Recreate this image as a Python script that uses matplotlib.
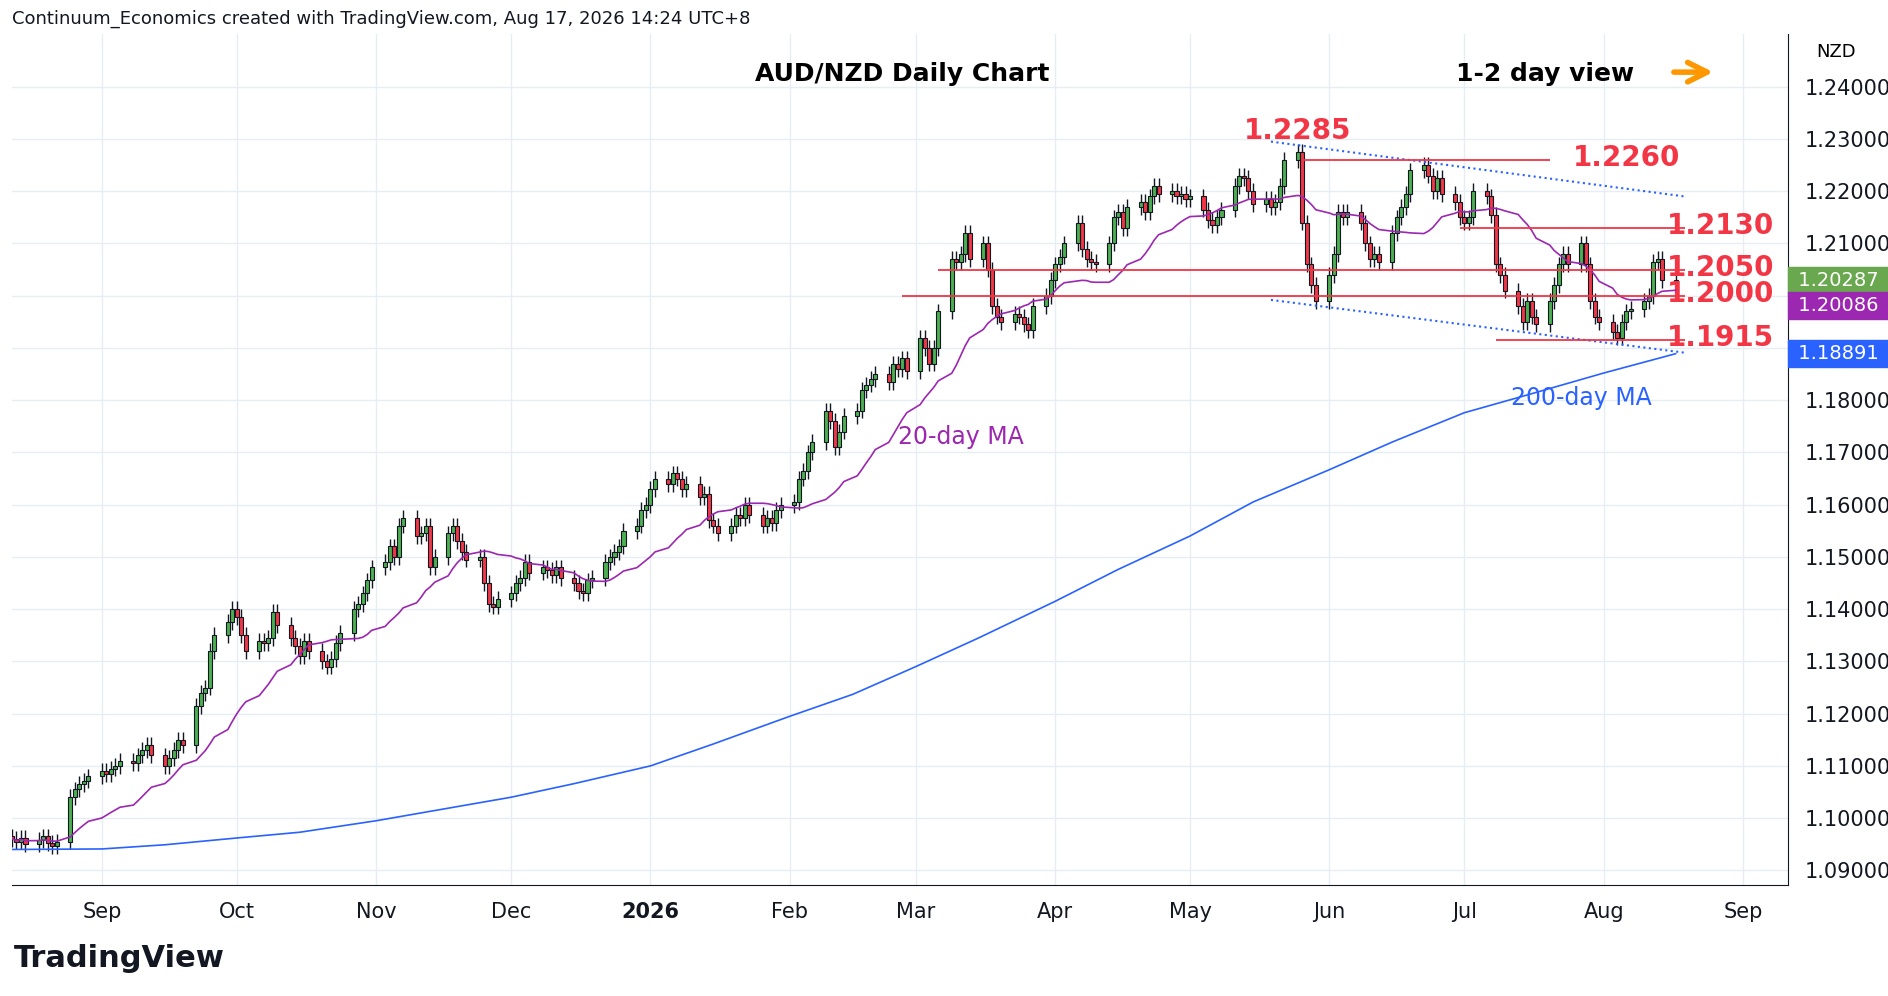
import numpy as np
import pandas as pd
import matplotlib.pyplot as plt
import matplotlib.dates as mdates

# daily closes by month
months = ["2025-08", "2025-09", "2025-10", "2025-11", "2025-12", "2026-01", "2026-02",
          "2026-03", "2026-04", "2026-05", "2026-06", "2026-07", "2026-08"]
start_day = {"2025-08": 12}
closes = [
    [1.0960, 1.0955, 1.0962, 1.0950, 1.0958, 1.0965, 1.0952, 1.0946, 1.0955, 1.1040, 1.1055, 1.1065, 1.1072, 1.1080],
    [1.1090, 1.1085, 1.1095, 1.1100, 1.1110, 1.1105, 1.1120, 1.1130, 1.1140, 1.1120, 1.1100, 1.1115, 1.1130, 1.1150,
     1.1140, 1.1215, 1.1240, 1.1250, 1.1320, 1.1350, 1.1375, 1.1400],
    [1.1385, 1.1350, 1.1320, 1.1340, 1.1335, 1.1345, 1.1395, 1.1370, 1.1345, 1.1330, 1.1310, 1.1340, 1.1320, 1.1300,
     1.1290, 1.1305, 1.1335, 1.1355, 1.1400, 1.1410, 1.1430, 1.1455, 1.1480],
    [1.1490, 1.1520, 1.1500, 1.1560, 1.1575, 1.1540, 1.1545, 1.1560, 1.1480, 1.1500, 1.1545, 1.1560, 1.1530, 1.1510,
     1.1495, 1.1500, 1.1450, 1.1410, 1.1405, 1.1420],
    [1.1430, 1.1450, 1.1460, 1.1490, 1.1470, 1.1480, 1.1475, 1.1465, 1.1480, 1.1460, 1.1450, 1.1435, 1.1430, 1.1455,
     1.1460, 1.1490, 1.1500, 1.1510, 1.1520, 1.1550, 1.1560, 1.1590, 1.1600],
    [1.1630, 1.1650, 1.1640, 1.1660, 1.1650, 1.1630, 1.1640, 1.1615, 1.1620, 1.1570, 1.1560, 1.1545, 1.1560, 1.1580,
     1.1575, 1.1600, 1.1580, 1.1560, 1.1575, 1.1565, 1.1590, 1.1600],
    [1.1605, 1.1650, 1.1665, 1.1700, 1.1720, 1.1780, 1.1760, 1.1710, 1.1740, 1.1770, 1.1780, 1.1820, 1.1830, 1.1840,
     1.1850, 1.1835, 1.1870, 1.1860, 1.1880, 1.1855],
    [1.1920, 1.1900, 1.1870, 1.1900, 1.1970, 1.2070, 1.2065, 1.2080, 1.2120, 1.2070, 1.2100, 1.2050, 1.1980, 1.1960,
     1.1950, 1.1965, 1.1960, 1.1945, 1.1935, 1.1980, 1.2000, 1.2030],
    [1.2060, 1.2075, 1.2100, 1.2140, 1.2090, 1.2070, 1.2065, 1.2060, 1.2100, 1.2150, 1.2160, 1.2130, 1.2170, 1.2180,
     1.2160, 1.2190, 1.2210, 1.2195, 1.2200, 1.2190, 1.2195, 1.2185],
    [1.2190, 1.2165, 1.2145, 1.2135, 1.2150, 1.2165, 1.2210, 1.2230, 1.2225, 1.2200, 1.2175, 1.2185, 1.2170, 1.2180,
     1.2210, 1.2260, 1.2275, 1.2140, 1.2060, 1.2020, 1.1990],
    [1.2040, 1.2080, 1.2160, 1.2150, 1.2160, 1.2140, 1.2100, 1.2070, 1.2080, 1.2065, 1.2120, 1.2150, 1.2170, 1.2195,
     1.2240, 1.2250, 1.2230, 1.2200, 1.2225, 1.2195, 1.2180, 1.2150],
    [1.2140, 1.2150, 1.2200, 1.2190, 1.2155, 1.2060, 1.2040, 1.2010, 1.1980, 1.1950, 1.1990, 1.1960, 1.1945, 1.1990,
     1.2020, 1.2060, 1.2080, 1.2060, 1.2100, 1.2060, 1.1990, 1.1960, 1.1950],
    [1.1930, 1.1920, 1.1950, 1.1970, 1.1975, 1.1990, 1.2000, 1.2065, 1.2070, 1.2030, 1.2029],
]
first_open = 1.0965
wick = 0.0015

# 200-day MA
ma200_dates = ["2025-08-12", "2025-09-01", "2025-09-15", "2025-10-01", "2025-10-15", "2025-11-01", "2025-11-15",
               "2025-12-01", "2025-12-15", "2026-01-01", "2026-01-15", "2026-02-01", "2026-02-15", "2026-03-01",
               "2026-03-15", "2026-04-01", "2026-04-15", "2026-05-01", "2026-05-15", "2026-06-01", "2026-06-15",
               "2026-07-01", "2026-07-15", "2026-08-01", "2026-08-17"]
ma200_vals = [1.0940, 1.0941, 1.0949, 1.0962, 1.0973, 1.0995, 1.1016, 1.1040, 1.1066, 1.1100, 1.1142, 1.1195,
              1.1237, 1.1290, 1.1345, 1.1415, 1.1476, 1.1540, 1.1605, 1.1667, 1.1720, 1.1776, 1.1810,
              1.1852, 1.1889]

levels = [(1.2260, "2026-05-26", "2026-07-20"), (1.2130, "2026-06-30", "2026-08-19"),
          (1.2050, "2026-03-06", "2026-08-19"), (1.2000, "2026-02-26", "2026-08-19"),
          (1.1915, "2026-07-08", "2026-08-19")]

# price tags on the axis: value, drawn position, colour
tags = [(1.20287, 1.2029, "#6aa84f"), (1.20086, 1.1981, "#9c27b0"), (1.18891, 1.1889, "#2962ff")]

dates = []
for m, vals in zip(months, closes):
    y, mo = map(int, m.split("-"))
    d0 = pd.Timestamp(y, mo, start_day.get(m, 1))
    bd = pd.bdate_range(d0, d0 + pd.offsets.MonthEnd(0))
    dates += list(bd[:len(vals)])
c = np.concatenate(closes)
o = np.concatenate([[first_open], c[:-1]])
h = np.maximum(o, c) + wick
l = np.minimum(o, c) - wick
x = mdates.date2num(dates)
ma20 = pd.Series(c).rolling(20, min_periods=1).mean().values

fig = plt.figure(figsize=(18.88, 9.96), dpi=100)
ax = fig.add_axes([12 / 1888, 1 - 885 / 996, 1776 / 1888, 851 / 996])
ax.set_facecolor("white")

up = c >= o
for xi, oi, ci, hi, li, u in zip(x, o, c, h, l, up):
    ax.vlines(xi, li, hi, color="#131722", lw=1, zorder=2)
    ax.bar(xi, max(abs(ci - oi), 0.0002), bottom=min(oi, ci), width=0.9,
           color="#4caf50" if u else "#f23645", edgecolor="#131722", lw=0.8, zorder=3)

ax.plot(x, ma20, color="#9c27b0", lw=1.2, zorder=4)
ax.plot(mdates.date2num(pd.to_datetime(ma200_dates)), ma200_vals, color="#2962ff", lw=1.2, zorder=4)


def d(s):
    return mdates.datestr2num(s)


red = "#f23645"
for lv, a, b in levels:
    ax.hlines(lv, d(a), d(b), color=red, lw=1.3, zorder=5)
ax.plot([d("2026-05-19"), d("2026-08-19")], [1.2295, 1.2190], ":", color="#2962ff", lw=1.5)
ax.plot([d("2026-05-19"), d("2026-08-19")], [1.1992, 1.1891], ":", color="#2962ff", lw=1.5)

lab = dict(color=red, fontsize=20, fontweight="bold", va="center")
ax.text(d("2026-05-25"), 1.2316, "1.2285", ha="center", **lab)
ax.text(d("2026-08-06"), 1.2264, "1.2260", ha="center", **lab)
for v, t in [(1.2130, "1.2130"), (1.2050, "1.2050"), (1.2000, "1.2000"), (1.1915, "1.1915")]:
    ax.text(d("2026-08-27"), v + 0.0004, t, ha="center", **lab)
ax.text(d("2026-07-27"), 1.1805, "200-day MA", color="#2962ff", fontsize=17, ha="center", va="center")
ax.text(d("2026-03-11"), 1.1730, "20-day MA", color="#9c27b0", fontsize=17, ha="center", va="center")
ax.text(d("2026-02-26"), 1.2425, "AUD/NZD Daily Chart", fontsize=18, fontweight="bold", ha="center", va="center")
ax.text(d("2026-07-19"), 1.2425, "1-2 day view", fontsize=18, fontweight="bold", ha="center", va="center")
ax.annotate("", xy=(d("2026-08-26"), 1.2428), xytext=(d("2026-08-16"), 1.2428),
            arrowprops=dict(arrowstyle="->", color="#ff9800", lw=4, mutation_scale=35))

ax.set_xlim(d("2025-08-12"), d("2026-09-11"))
ax.set_ylim(1.0872, 1.2501)
ticks = pd.date_range("2025-09-01", "2026-09-01", freq="MS")
ax.set_xticks(mdates.date2num(ticks))
ax.set_xticklabels(["2026" if t.month == 1 else t.strftime("%b") for t in ticks])
for tl in ax.get_xticklabels():
    if tl.get_text() == "2026":
        tl.set_fontweight("bold")
ax.yaxis.tick_right()
yt = np.arange(1.09, 1.2401, 0.01)
ax.set_yticks(yt)
# 1.20 and 1.19 sit under the price tags
ax.set_yticklabels(["" if abs(v - 1.20) < 1e-6 or abs(v - 1.19) < 1e-6 else f"{v:.5f}" for v in yt])
ax.tick_params(labelsize=15, colors="#131722", length=0, pad=12)
ax.grid(color="#e6edf3", lw=1)
for s in ["top", "left"]:
    ax.spines[s].set_visible(False)
ax.spines["right"].set_color("#131722")
ax.spines["bottom"].set_color("#131722")

for v, pos, col in tags:
    ax.text(1.002, pos, f" {v:.5f} ", transform=ax.get_yaxis_transform(), color="white", fontsize=14,
            va="center", ha="left", bbox=dict(boxstyle="square,pad=0.2", fc=col, ec=col))
ax.text(1.016, 1.2466, "NZD", transform=ax.get_yaxis_transform(), fontsize=13, va="center")

fig.text(12 / 1888, 1 - 19 / 996, "Continuum_Economics created with TradingView.com, Aug 17, 2026 14:24 UTC+8",
         fontsize=13, color="#131722", va="center")
fig.text(14 / 1888, 1 - 958 / 996, "TradingView", fontsize=22, fontweight="bold", color="#131722", va="center")
fig.savefig("out.png", dpi=100)
